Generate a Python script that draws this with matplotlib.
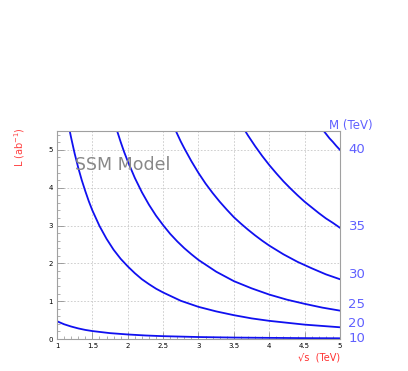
import matplotlib
matplotlib.use("Agg")
import matplotlib.pyplot as plt
from matplotlib.ticker import MultipleLocator

# Data (L in ab^-1 vs sqrt(s) in TeV)
sqrt_s_m10 = [1.0, 1.1, 1.2, 1.3, 1.4, 1.5, 1.75, 2.0, 2.25, 2.5, 3.0, 3.5, 4.0, 4.5, 5.0]
L_m10 = [0.47, 0.39, 0.33, 0.28, 0.24, 0.21, 0.155, 0.12, 0.093, 0.075, 0.052, 0.038, 0.030, 0.023, 0.019]

sqrt_s_m20 = [1.18, 1.2, 1.25, 1.3, 1.35, 1.4, 1.45, 1.5, 1.6, 1.7, 1.8, 1.9, 2.0, 2.1, 2.2,
              2.3, 2.4, 2.5, 2.75, 3.0, 3.25, 3.5, 3.75, 4.0, 4.5, 5.0]
L_m20 = [5.5, 5.32, 4.90, 4.53, 4.20, 3.91, 3.64, 3.40, 2.99, 2.65, 2.36, 2.12, 1.92, 1.74, 1.58,
         1.45, 1.33, 1.23, 1.01, 0.85, 0.73, 0.63, 0.545, 0.48, 0.38, 0.31]

sqrt_s_m25 = [1.85, 1.9, 1.95, 2.0, 2.1, 2.2, 2.3, 2.4, 2.5, 2.6, 2.7, 2.8, 2.9, 3.0,
              3.25, 3.5, 3.75, 4.0, 4.25, 4.5, 4.75, 5.0]
L_m25 = [5.5, 5.21, 4.94, 4.70, 4.26, 3.88, 3.55, 3.26, 3.01, 2.78, 2.58, 2.40, 2.24, 2.09,
         1.78, 1.53, 1.34, 1.175, 1.04, 0.93, 0.83, 0.75]

sqrt_s_m30 = [2.68, 2.75, 2.8, 2.9, 3.0, 3.1, 3.2, 3.3, 3.4, 3.5, 3.6, 3.7, 3.8, 3.9, 4.0,
              4.2, 4.4, 4.6, 4.8, 5.0]
L_m30 = [5.5, 5.22, 5.04, 4.70, 4.39, 4.11, 3.86, 3.63, 3.42, 3.22, 3.05, 2.89, 2.74, 2.60, 2.47,
         2.24, 2.04, 1.87, 1.71, 1.58]

sqrt_s_m35 = [3.66, 3.7, 3.8, 3.9, 4.0, 4.1, 4.2, 4.3, 4.4, 4.5, 4.6, 4.7, 4.8, 4.9, 5.0]
L_m35 = [5.5, 5.38, 5.10, 4.84, 4.60, 4.38, 4.17, 3.98, 3.80, 3.63, 3.48, 3.33, 3.19, 3.07, 2.94]

sqrt_s_m40 = [4.77, 4.8, 4.85, 4.9, 4.95, 5.0]
L_m40 = [5.5, 5.43, 5.31, 5.21, 5.10, 5.0]

mass_labels = ["10", "20", "25", "30", "35", "40"]
mass_label_L = [0.0, 0.42, 0.90, 1.70, 2.98, 5.0]

x_ticks = [1, 1.5, 2, 2.5, 3, 3.5, 4, 4.5, 5]

curves = [
    (sqrt_s_m10, L_m10),
    (sqrt_s_m20, L_m20),
    (sqrt_s_m25, L_m25),
    (sqrt_s_m30, L_m30),
    (sqrt_s_m35, L_m35),
    (sqrt_s_m40, L_m40),
]

fig = plt.figure(figsize=(4.08, 3.71), dpi=100)
ax = fig.add_axes([57/408, 1-339/371, (340-57)/408, (339-131)/371])

for xs, ys in curves:
    ax.plot(xs, ys, color="#1010f0", lw=1.3, solid_joinstyle="round", clip_on=True)

ax.set_xlim(1, 5)
ax.set_ylim(0, 5.5)

ax.xaxis.set_major_locator(MultipleLocator(0.5))
ax.xaxis.set_minor_locator(MultipleLocator(0.1))
ax.yaxis.set_major_locator(MultipleLocator(1))
ax.yaxis.set_minor_locator(MultipleLocator(0.2))

ax.grid(True, which="major", color="#c8c8c8", linestyle=(0, (2, 2)), lw=0.6)
ax.tick_params(axis="both", which="major", direction="in", length=5, width=0.6,
               color="#909090", labelsize=5, pad=3)
ax.tick_params(axis="both", which="minor", direction="in", length=2.5, width=0.5,
               color="#909090")
ax.tick_params(top=False, right=False, which="both")

ax.set_xticks(x_ticks)
ax.set_xticklabels([f"{v:g}" for v in x_ticks])

for sp in ax.spines.values():
    sp.set_color("#a0a0a0")
    sp.set_linewidth(0.8)

# Right side mass labels
for lab, yv in zip(mass_labels, mass_label_L):
    ax.text(1.03, yv / 5.5, lab, transform=ax.transAxes, color="#6060ff",
            fontsize=9.5, ha="left", va="center")

fig.text(351/408, 1-125/371, "M (TeV)", color="#6060ff", fontsize=8.5,
         ha="center", va="center")

fig.text(20/408, 1-147/371, "L (ab$^{-1}$)", color="#ff4040", fontsize=7,
         rotation=90, ha="center", va="center")

fig.text(340/408, 1-357/371, "\u221as  (TeV)", color="#ff3030", fontsize=7,
         ha="right", va="center")

fig.text(75/408, 1-165/371, "SSM Model", color="#888888", fontsize=12.5,
         ha="left", va="center")

fig.savefig("out.png", dpi=100)
